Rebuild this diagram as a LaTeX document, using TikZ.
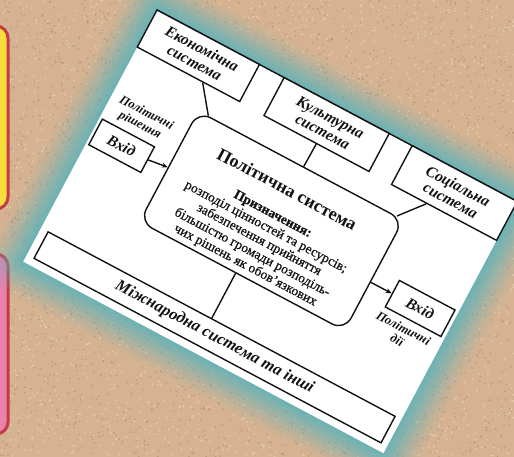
\documentclass[tikz,border=0pt]{standalone}
\usepackage{fontspec}
\setmainfont{Liberation Serif}
\usetikzlibrary{arrows.meta,calc}
\definecolor{sand}{RGB}{212,178,146}
\definecolor{sanddark}{RGB}{150,116,90}
\definecolor{sandlight}{RGB}{244,218,192}
\definecolor{glow}{RGB}{96,178,188}
\definecolor{ink}{RGB}{18,18,18}
\definecolor{boxred}{RGB}{196,60,66}
\definecolor{boxyellow}{RGB}{245,222,60}
\definecolor{boxpink}{RGB}{234,130,174}
\definecolor{boxpurple}{RGB}{148,122,206}
\pgfdeclareverticalshading{pinkshade}{100bp}{color(0bp)=(boxpink); color(80bp)=(boxpink); color(100bp)=(boxpurple)}
\tikzset{
  sysbox/.style={draw=ink, line width=1.4pt, fill=white, rectangle, inner sep=0pt, align=center, text=ink,
    font=\fontsize{15.5}{16}\selectfont\bfseries\itshape},
  polbox/.style={draw=ink, line width=1.4pt, rectangle, rounded corners=14pt, inner sep=0pt},
  conn/.style={draw=ink, line width=1.4pt},
  arr/.style={conn, -{Stealth[length=6pt,width=5pt]}},
  lbl/.style={font=\fontsize{12.5}{13.5}\selectfont\bfseries\itshape, align=center, inner sep=0pt, text=ink},
  titletxt/.style={font=\fontsize{18}{20}\selectfont\bfseries, inner sep=0pt, text=ink},
  bodytxt/.style={font=\fontsize{13.5}{14.5}\selectfont\addfontfeature{FakeBold=0.6}, align=center, inner sep=0pt, text=ink},
}
\begin{document}
\begin{tikzpicture}[x=1pt,y=-1pt]
\useasboundingbox (0,0) rectangle (514,457);
\clip (0,0) rectangle (514,457);
% sand background
\fill[sand] (0,0) rectangle (514,457);
\pgfmathsetseed{11}
\foreach \i in {1,...,3000}{
  \pgfmathsetmacro\xx{rnd*514}\pgfmathsetmacro\yy{rnd*457}
  \fill[sanddark, opacity=0.4] (\xx,\yy) circle (0.9);
}
\foreach \i in {1,...,2600}{
  \pgfmathsetmacro\xx{rnd*514}\pgfmathsetmacro\yy{rnd*457}
  \fill[sandlight, opacity=0.6] (\xx,\yy) circle (1.0);
}
% left boxes
\draw[line width=3pt, draw=boxred, fill=boxyellow, rounded corners=12pt] (-30,26) rectangle (8,209);
\path[shading=pinkshade, rounded corners=12pt] (-30,254) rectangle (8,434);
\draw[line width=3pt, draw=boxred, rounded corners=12pt] (-30,254) rectangle (8,434);
% rotated card
\begin{scope}[shift={(157pt,-10pt)}, rotate=-28, transform shape]
  \foreach \k/\o in {34/0.06,30/0.08,26/0.1,22/0.14,18/0.18,14/0.22,10/0.26,6/0.3,3/0.3}{
    \fill[glow, opacity=\o, rounded corners=\k pt] ({-\k},{-\k}) rectangle ({408+\k},{285+\k});
  }
  \fill[white] (0,0) rectangle (408,285);
  \draw[conn] (0,0) -- (408,0);
  % top systems
  \node[sysbox, minimum width=116pt, minimum height=42pt] (eco) at (58,21) {Економічна\\система};
  \node[sysbox, minimum width=119pt, minimum height=43pt] (cult) at (203.5,21.5) {Культурна\\система};
  \node[sysbox, minimum width=119pt, minimum height=44pt] (soc) at (348.5,22) {Соціальна\\система};
  % political system
  \node[polbox, minimum width=232pt, minimum height=125pt] (pol) at (200,132.5) {};
  \node[titletxt] (poltitle) at (199,97) {Політична система};
  \node[bodytxt] (polbody) at (198,155.5) {\textbf{Призначення:}\\розподіл цінностей та ресурсів;\\забезпечення прийняття\\більшістю громади розподіль-\\чих рішень як обов’язкових};
  % input / output
  \node[sysbox, minimum width=59pt, minimum height=29pt] (vin) at (32.5,136.5) {Вхід};
  \node[lbl] (vinlbl) at (39,103) {Політичні\\рішення};
  \node[sysbox, minimum width=63pt, minimum height=30pt] (vout) at (372.5,140) {Вхід};
  \node[lbl] (voutlbl) at (367,172) {Політичні\\дії};
  % international
  \node[sysbox, minimum width=393pt, minimum height=30pt, font=\fontsize{16.5}{17}\selectfont\bfseries\itshape] (intl) at (204.5,262) {Міжнародна система та інші};
  % connectors
  \draw[conn] ($(eco.south west)!0.64!(eco.south east)$) -- ($(pol.north west)!0.05!(pol.north east)$);
  \draw[conn] (cult.south) -- ($(pol.north west)!0.513!(pol.north east)$);
  \draw[conn] ($(soc.south west)!0.336!(soc.south east)$) -- ($(pol.north west)!0.965!(pol.north east)$);
  \draw[arr] (vin.east) -- ($(pol.north west)!0.51!(pol.south west)$);
  \draw[arr] ($(pol.north east)!0.56!(pol.south east)$) -- (vout.west);
  \draw[conn] ($(pol.south west)!0.47!(pol.south east)$) -- ($(intl.north west)!0.471!(intl.north east)$);
\end{scope}
\end{tikzpicture}
\end{document}
